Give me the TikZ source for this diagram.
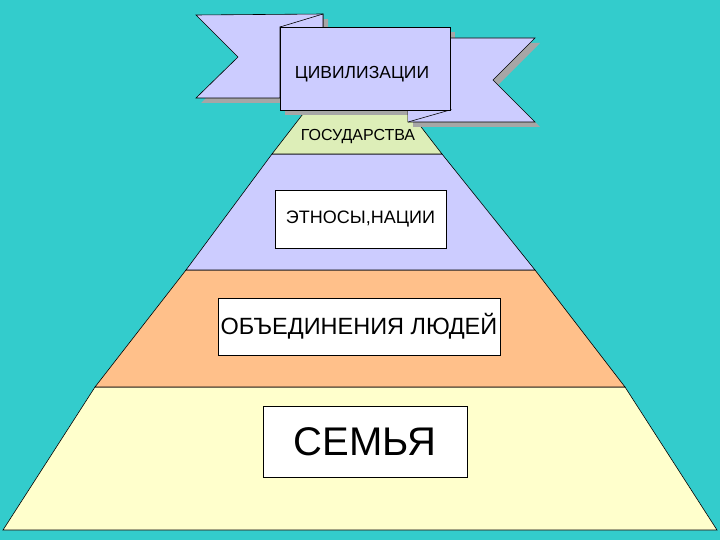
\documentclass[tikz,border=0pt]{standalone}
\usepackage{fontspec}
\setmainfont{Liberation Sans}
\begin{document}
\begin{tikzpicture}[x=1pt,y=-1pt,
  lay/.style={draw=black,line width=0.6pt},
  tbox/.style={draw=black,fill=white,line width=0.5pt,inner sep=0pt},
  rib/.style={draw=black,fill=rib,line width=0.6pt,line join=miter},
  shad/.style={fill=gray!70}]
\definecolor{bg}{HTML}{33CCCC}
\definecolor{rib}{HTML}{CCCCFF}
\definecolor{lg}{HTML}{DDEEB8}
\definecolor{lo}{HTML}{FFC08A}
\definecolor{ly}{HTML}{FFFFCC}
\fill[bg] (0,0) rectangle (720,540);
\useasboundingbox (0,0) rectangle (720,540);
% pyramid layers
\draw[lay,fill=ly] (95,387) -- (625,387) -- (717,530) -- (3,530) -- cycle;
\draw[lay,fill=lo] (186,270) -- (535,270) -- (625,387) -- (95,387) -- cycle;
\draw[lay,fill=rib] (272,154) -- (442,154) -- (535,270) -- (186,270) -- cycle;
\draw[lay,fill=lg] (306,110) -- (408,110) -- (442,154) -- (272,154) -- cycle;
\node (g) at (358,137) {\fontsize{16}{18}\selectfont ГОСУДАРСТВА};
\node[tbox,minimum width=171pt,minimum height=58pt] (e) at (360.5,219) {\fontsize{18}{20}\selectfont ЭТНОСЫ,НАЦИИ};
\node[tbox,minimum width=282pt,minimum height=57pt] (o) at (359,326.5) {\fontsize{23.5}{26}\selectfont ОБЪЕДИНЕНИЯ ЛЮДЕЙ};
\node[tbox,minimum width=204pt,minimum height=71pt] (s) at (365,441.5) {\fontsize{40}{44}\selectfont СЕМЬЯ};
% ribbon shadows
\begin{scope}[shift={(5,5)}]
\fill[shad] (196,15) -- (323,14) -- (323,27) -- (280,27) -- (280,98) -- (196,98) -- (238,57) -- cycle;
\fill[shad] (450,38) -- (535,38) -- (493,80) -- (535,122) -- (408,122) -- (408,110) -- (450,110) -- cycle;
\fill[shad] (280,27) rectangle (450,110);
\end{scope}
% ribbons
\draw[rib] (196,15) -- (323,14) -- (323,27) -- (280,27) -- (280,98) -- (196,98) -- (238,57) -- cycle;
\draw[rib] (280,27) -- (323,14) -- (323,27);
\draw[rib] (450,38) -- (535,38) -- (493,80) -- (535,122) -- (408,122) -- (408,110) -- (450,110) -- cycle;
\draw[rib] (408,122) -- (450,110) -- (408,110);
\draw[rib] (280,27) rectangle (450,110);
\node (c) at (362,74) {\fontsize{17.5}{20}\selectfont ЦИВИЛИЗАЦИИ};
\end{tikzpicture}
\end{document}
